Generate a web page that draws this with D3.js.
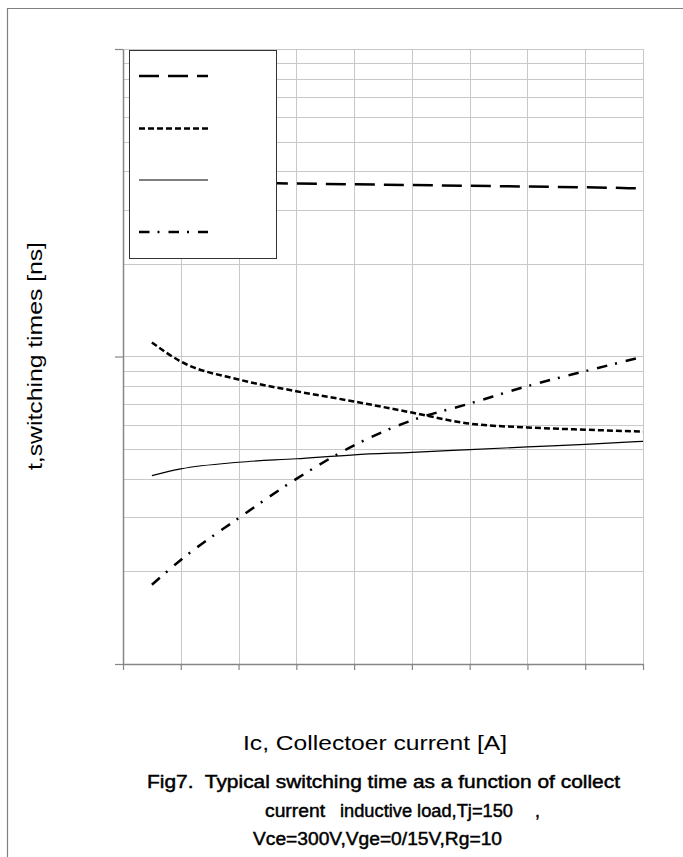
<!DOCTYPE html>
<html>
<head>
<meta charset="utf-8">
<script src="https://cdn.jsdelivr.net/npm/d3@7/dist/d3.min.js"></script>
<style>
  html, body { margin: 0; padding: 0; background: #fff; }
  svg { display: block; }
  text { font-family: "Liberation Sans", Arial, sans-serif; fill: #000; }
</style>
</head>
<body>
<svg id="chart" width="683" height="857"></svg>
<script>
// ---- data ----
const current = [5, 10, 20, 30, 40, 50, 60, 70, 80, 90];           // Ic [A]
const tdOff = [372, 370, 367, 365, 363, 361, 359, 357, 355, 352];    // long dash
const tf    = [111, 96.3, 84.2, 77.1, 71.4, 65.7, 60.5, 58.8, 57.8, 57.0]; // short dash
const tdOn  = [41.0, 43.1, 45.3, 46.5, 47.9, 48.8, 49.8, 50.8, 51.8, 53.0]; // solid
const tr    = [18.1, 21.8, 29.8, 40.0, 51.4, 62.0, 70.3, 80.1, 89.6, 99.8]; // dash-dot
const xTicks = [0, 10, 20, 30, 40, 50, 60, 70, 80, 90];
const yMajor = [10, 100, 1000];
const xTitle = "Ic, Collectoer current [A]";
const yTitle = "t,switching times [ns]";
const caption1 = "Fig7.  Typical switching time as a function of collect";
const caption2a = "current", caption2b = "inductive load,Tj=150", caption2c = ",";
const caption3 = "Vce=300V,Vge=0/15V,Rg=10";

const seriesList = [
  { name: "td(off)", values: tdOff, dash: "20,9", width: 2.5 },
  { name: "tf", values: tf, dash: "6,3", width: 2.5 },
  { name: "td(on)", values: tdOn, dash: null, width: 1.2 },
  { name: "tr", values: tr, dash: "10.5,8,2,9", width: 2.5 }
];

const svg = d3.select("#chart");
const L = 123, R = 643, T = 49, B = 664;
const x = d3.scaleLinear().domain([0, 90]).range([L, R]);
const y = d3.scaleLog().domain([10, 1000]).range([B, T]);

// outer frame
svg.append("path").attr("d", "M7.5,857 V8.5 H683")
  .attr("fill", "none").attr("stroke", "#808080").attr("stroke-width", 1.2);

// grid
const gridY = [];
[10, 100].forEach(d => { for (let k = 2; k <= 10; k++) gridY.push(d * k); });
const grid = svg.append("g").attr("stroke", "#c8c8c8").attr("stroke-width", 1);
grid.selectAll("line.h").data(gridY).join("line")
  .attr("x1", L).attr("x2", R)
  .attr("y1", d => Math.round(y(d)) + 0.5).attr("y2", d => Math.round(y(d)) + 0.5);
grid.selectAll("line.v").data(xTicks.slice(1)).join("line")
  .attr("y1", T).attr("y2", B)
  .attr("x1", d => Math.round(x(d)) + 0.5).attr("x2", d => Math.round(x(d)) + 0.5);

// axes
const ax = svg.append("g").attr("transform", `translate(0,${B})`)
  .call(d3.axisBottom(x).tickValues(xTicks).tickSize(6).tickSizeOuter(0).tickFormat(""));
const ay = svg.append("g").attr("transform", `translate(${L},0)`)
  .call(d3.axisLeft(y).tickValues(yMajor).tickSize(8).tickSizeOuter(0).tickFormat(""));
[ax, ay].forEach(g => {
  g.select(".domain").attr("stroke", "#868686").attr("stroke-width", 1.5);
  g.selectAll(".tick line").attr("stroke", "#868686").attr("stroke-width", 1.2);
});

// series
const line = d3.line().x((d, i) => x(current[i])).y(d => y(d)).curve(d3.curveMonotoneX);
seriesList.forEach(s => {
  svg.append("path").datum(s.values)
    .attr("d", line).attr("fill", "none").attr("stroke", "#000")
    .attr("stroke-width", s.width)
    .attr("stroke-dasharray", s.dash);
});

// legend (labels absent in reference)
const lg = svg.append("g");
lg.append("rect").attr("x", 129.5).attr("y", 50.5).attr("width", 147).attr("height", 208)
  .attr("fill", "#fff").attr("stroke", "#333").attr("stroke-width", 1);
const legendY = [76, 128.5, 180, 232];
seriesList.forEach((s, i) => {
  lg.append("line").attr("x1", 139).attr("x2", 208)
    .attr("y1", legendY[i]).attr("y2", legendY[i])
    .attr("stroke", "#000").attr("stroke-width", s.width)
    .attr("stroke-dasharray", s.dash);
});

// titles
svg.append("text").attr("x", 375).attr("y", 750).attr("text-anchor", "middle")
  .attr("font-size", 21).attr("textLength", 264).attr("lengthAdjust", "spacingAndGlyphs")
  .text(xTitle);
svg.append("text").attr("transform", "translate(42,356) rotate(-90)")
  .attr("text-anchor", "middle").attr("font-size", 20)
  .attr("textLength", 228).attr("lengthAdjust", "spacingAndGlyphs")
  .text(yTitle);

// caption
const cap = svg.append("g").attr("font-size", 17.5)
  .attr("stroke", "#000").attr("stroke-width", 0.45);
cap.append("text").attr("x", 147).attr("y", 788).attr("xml:space", "preserve")
  .attr("textLength", 473).attr("lengthAdjust", "spacingAndGlyphs").text(caption1);
cap.append("text").attr("x", 265).attr("y", 817)
  .attr("textLength", 60).attr("lengthAdjust", "spacingAndGlyphs").text(caption2a);
cap.append("text").attr("x", 340).attr("y", 817)
  .attr("textLength", 173).attr("lengthAdjust", "spacingAndGlyphs").text(caption2b);
cap.append("text").attr("x", 535).attr("y", 817).text(caption2c);
cap.append("text").attr("x", 253).attr("y", 845)
  .attr("textLength", 249).attr("lengthAdjust", "spacingAndGlyphs").text(caption3);
</script>
</body>
</html>
